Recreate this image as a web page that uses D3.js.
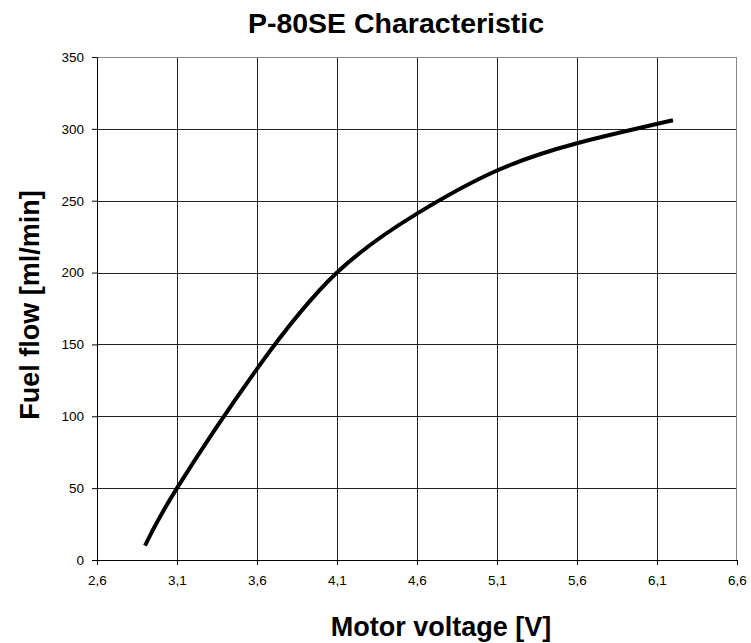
<!DOCTYPE html>
<html>
<head>
<meta charset="utf-8">
<script src="https://cdn.jsdelivr.net/npm/d3@7"></script>
<style>
  body { margin: 0; background: #fff; }
  svg text { font-family: "Liberation Sans", Arial, sans-serif; }
</style>
</head>
<body>
<svg id="chart" width="751" height="643"></svg>
<script>
// measured points of the pump curve
var voltage = [2.9, 3.1, 3.6, 4.1, 4.6, 5.1, 5.6, 6.2];
var flow    = [10,  50,  133, 200, 241, 271, 290, 306];
var xTicks  = [2.6, 3.1, 3.6, 4.1, 4.6, 5.1, 5.6, 6.1, 6.6];
var yTicks  = [0, 50, 100, 150, 200, 250, 300, 350];

var data = voltage.map(function(v, i) { return {v: v, f: flow[i]}; });

var margin = {top: 57, right: 14, bottom: 83, left: 97};
var width  = 751 - margin.left - margin.right;
var height = 643 - margin.top - margin.bottom;

var x = d3.scaleLinear().domain([2.6, 6.6]).range([0, width]);
var y = d3.scaleLinear().domain([0, 350]).range([height, 0]);

var svg = d3.select("#chart");
var graph = svg.append("g").attr("transform", "translate(" + margin.left + "," + margin.top + ")");

// grid
graph.append("g").selectAll("line").data(xTicks.slice(1, -1)).join("line")
  .attr("x1", function(d) { return Math.round(x(d)) + 0.5; })
  .attr("x2", function(d) { return Math.round(x(d)) + 0.5; })
  .attr("y1", 0).attr("y2", height)
  .attr("stroke", "#222").attr("stroke-width", 1);
graph.append("g").selectAll("line").data(yTicks.slice(1, -1)).join("line")
  .attr("y1", function(d) { return Math.round(y(d)) + 0.5; })
  .attr("y2", function(d) { return Math.round(y(d)) + 0.5; })
  .attr("x1", 0).attr("x2", width)
  .attr("stroke", "#222").attr("stroke-width", 1);

// top and right frame
graph.append("line").attr("x1", 0).attr("x2", width).attr("y1", 0.5).attr("y2", 0.5)
  .attr("stroke", "#888");
graph.append("line").attr("x1", width - 0.5).attr("x2", width - 0.5).attr("y1", 0).attr("y2", height)
  .attr("stroke", "#888");

var fmt = function(d) { return d3.format(".1f")(d).replace(".", ","); };

var axisX = d3.axisBottom(x).tickValues(xTicks).tickFormat(fmt)
  .tickSizeInner(5).tickSizeOuter(0).tickPadding(10);
var axisY = d3.axisLeft(y).tickValues(yTicks)
  .tickSizeInner(5).tickSizeOuter(0).tickPadding(8);

var gx = graph.append("g").attr("transform", "translate(0," + height + ")").call(axisX);
var gy = graph.append("g").call(axisY);
[gx, gy].forEach(function(g) {
  g.selectAll("path, line").attr("stroke", "#000");
  g.selectAll("text").attr("font-size", 13.5).attr("fill", "#000")
    .style("font-family", "'Liberation Sans', Arial, sans-serif");
});

// curve
var line = d3.line()
  .x(function(d) { return x(d.v); })
  .y(function(d) { return y(d.f); })
  .curve(d3.curveNatural);
graph.append("path").datum(data)
  .attr("d", line)
  .attr("fill", "none")
  .attr("stroke", "#000")
  .attr("stroke-width", 4);

// titles
svg.append("text").attr("x", 396).attr("y", 33)
  .attr("text-anchor", "middle").attr("font-size", 28.5).attr("font-weight", "bold")
  .text("P-80SE Characteristic");
svg.append("text").attr("x", 441).attr("y", 636)
  .attr("text-anchor", "middle").attr("font-size", 27).attr("font-weight", "bold")
  .text("Motor voltage [V]");
svg.append("text").attr("transform", "translate(39,305) rotate(-90)")
  .attr("text-anchor", "middle").attr("font-size", 27).attr("font-weight", "bold")
  .text("Fuel flow [ml/min]");
</script>
</body>
</html>
